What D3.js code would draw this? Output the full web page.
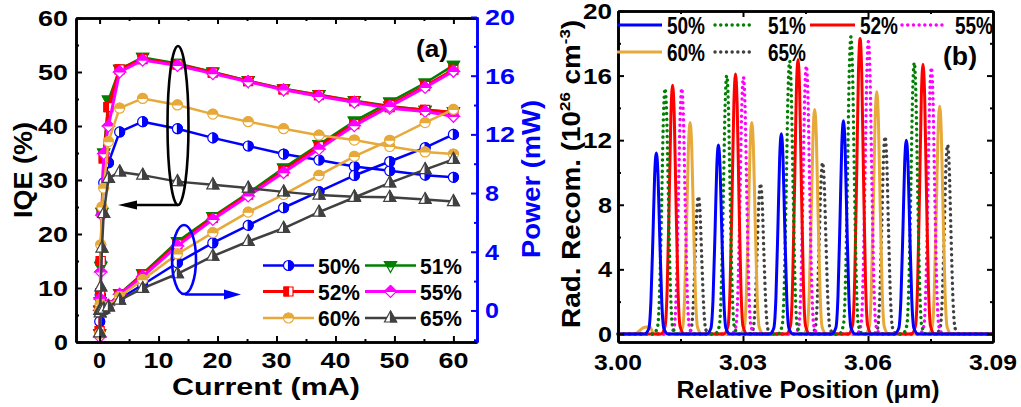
<!DOCTYPE html>
<html><head><meta charset="utf-8">
<script src="https://cdn.jsdelivr.net/npm/d3@7"></script>
<style>
body{margin:0;background:#fff}
svg{display:block}
text{font-family:"Liberation Sans",Arial,sans-serif;font-weight:bold}
</style>
</head><body>
<svg id="c" width="1021" height="407"></svg>
<script>
// ---------------- DATA: panel (a) ----------------
const seriesNames = ["50%", "51%", "52%", "55%", "60%", "65%"];
const currentA = [0.02, 0.1, 0.2, 0.4, 0.7, 1.5, 3.4, 7.3, 13.2, 19.2, 25.2, 31.2, 37.2, 43.2, 49.2, 55.2, 60];
const iqe50 = [3.8, 8.7, 14.9, 23.8, 29.5, 33.2, 38.9, 40.8, 39.5, 37.8, 36.3, 34.8, 33.7, 32.5, 31.7, 30.9, 30.5];
const iqe51 = [1.5, 7.5, 14.0, 24.0, 35.0, 44.8, 50.5, 52.7, 51.6, 50.0, 48.4, 46.9, 45.8, 44.7, 43.7, 42.9, 42.6];
const iqe52 = [2.0, 9.0, 15.0, 24.0, 34.0, 43.5, 50.5, 52.4, 51.4, 49.9, 48.3, 46.8, 45.7, 44.6, 43.5, 43.0, 42.5];
const iqe55 = [1.0, 8.0, 13.0, 23.5, 34.9, 40.0, 50.0, 52.2, 51.2, 49.7, 48.2, 46.7, 45.5, 44.4, 43.3, 42.7, 41.8];
const iqe60 = [1.5, 7.0, 18.0, 25.0, 28.5, 37.1, 43.3, 45.1, 43.9, 42.2, 40.8, 39.5, 38.3, 37.4, 36.2, 35.2, 34.8];
const iqe65 = [1.7, 5.4, 10.2, 17.4, 23.8, 30.3, 31.5, 30.9, 29.7, 29.1, 28.5, 27.8, 27.2, 26.9, 26.8, 26.4, 26.0];
const pow50 = [0, 0, 0, 0.05, 0.1, 0.3, 0.8, 1.75, 3.25, 4.6, 5.8, 7.0, 8.1, 9.2, 10.15, 11.1, 12.0];
const pow51 = [0, 0, 0, 0.05, 0.1, 0.35, 1.15, 2.5, 4.7, 6.4, 8.0, 9.7, 11.3, 12.9, 14.2, 15.5, 16.7];
const pow52 = [0, 0, 0, 0.05, 0.1, 0.35, 1.1, 2.4, 4.5, 6.3, 7.9, 9.5, 11.2, 12.7, 14.0, 15.3, 16.4];
const pow55 = [0, 0, 0, 0.05, 0.1, 0.35, 1.1, 2.3, 4.4, 6.2, 7.8, 9.4, 11.0, 12.6, 13.9, 15.2, 16.3];
const pow60 = [0, 0, 0, 0.05, 0.1, 0.3, 0.95, 2.1, 3.85, 5.3, 6.7, 7.9, 9.2, 10.5, 11.6, 12.8, 13.7];
const pow65 = [0, 0, 0, 0.05, 0.1, 0.25, 0.7, 1.5, 2.5, 3.7, 4.7, 5.6, 6.7, 7.7, 8.7, 9.6, 10.3];
const iqeTicks = [0, 10, 20, 30, 40, 50, 60];
const powTicks = [0, 4, 8, 12, 16, 20];
const currentTicks = [0, 10, 20, 30, 40, 50, 60];

// ---------------- DATA: panel (b) ----------------
const posTicks = [3.00, 3.03, 3.06, 3.09];
const posTickLabels = ["3.00", "3.03", "3.06", "3.09"];
const radTicks = [0, 4, 8, 12, 16, 20];
const peakPos50 = [3.0092, 3.0241, 3.0392, 3.0541, 3.0692];
const peakVal50 = [11.2, 11.7, 12.4, 13.2, 12.0];
const peakPos51 = [3.0113, 3.0261, 3.0412, 3.0559, 3.0711];
const peakVal51 = [15.2, 16.0, 16.9, 18.4, 16.8];
const peakPos52 = [3.0131, 3.0282, 3.0432, 3.0581, 3.0732];
const peakVal52 = [15.4, 16.1, 17.0, 18.3, 16.7];
const peakPos55 = [3.0153, 3.0301, 3.0452, 3.0601, 3.0752];
const peakVal55 = [15.2, 15.9, 16.6, 18.1, 16.5];
const peakPos60 = [3.0173, 3.0321, 3.0472, 3.0621, 3.0772];
const peakVal60 = [13.1, 13.1, 13.9, 15.0, 14.1];
const peakPos65 = [3.0193, 3.0342, 3.0491, 3.0641, 3.0791];
const peakVal65 = [8.5, 9.3, 10.6, 12.2, 11.7];
// common peak outline (offset in um, fraction of peak height)
const peakDx = [-0.0028, -0.0018, -0.0013, -0.0008, -0.0004, 0, 0.0004, 0.0008, 0.0013, 0.0018, 0.0028];
const peakFrac = [0, 0.03, 0.18, 0.55, 0.88, 1, 0.88, 0.55, 0.18, 0.03, 0];
const bump60X = [3.0040, 3.0062, 3.0076, 3.0086];
const bump60Y = [0, 0.4, 0.45, 0];

// ---------------- STYLE ----------------
const col = {"50%": "#0000ff", "51%": "#007f00", "52%": "#ff0000", "55%": "#ff00ff", "60%": "#e6a93a", "65%": "#404040"};

const svg = d3.select("#c");

function txt(g, str, x, y, o) {
  const t = g.append("text").attr("x", x).attr("y", y).text(str)
    .attr("font-size", o.size).attr("text-anchor", o.anchor || "start")
    .attr("fill", o.color || "#000");
  if (o.len) t.attr("textLength", o.len).attr("lengthAdjust", "spacingAndGlyphs");
  return t;
}

// ================= PANEL (a) =================
const xA = d3.scaleLinear([-4, 64], [76, 477]);
const yI = d3.scaleLinear([0, 60], [342, 18]);
const yP = d3.scaleLinear([-2.15, 20], [342, 17]);
const gA = svg.append("g");

function markerPaths(kind) {
  switch (kind) {
    case "circleR": { const r = 5; return {o: `M${-r},0A${r},${r} 0 1,1 ${r},0A${r},${r} 0 1,1 ${-r},0Z`, h: `M0,${-r}A${r},${r} 0 0,1 0,${r}Z`}; }
    case "circleT": { const r = 5; return {o: `M${-r},0A${r},${r} 0 1,1 ${r},0A${r},${r} 0 1,1 ${-r},0Z`, h: `M${-r},0A${r},${r} 0 0,1 ${r},0Z`}; }
    case "triDown": return {o: "M-6,-4L6,-4L0,7Z", h: "M-6,-4L6,-4L3,1.5L-3,1.5Z"};
    case "square": return {o: "M-4.5,-4.5H4.5V4.5H-4.5Z", h: "M-4.5,-4.5H0V4.5H-4.5Z"};
    case "diamond": return {o: "M0,-6L6,0L0,6L-6,0Z", h: "M0,-6L6,0L-6,0Z"};
    case "triUp": return {o: "M0,-7L6,4L-6,4Z", h: "M0,-7L6,4L0,4Z"};
  }
}
const markerKind = {"50%": "circleR", "51%": "triDown", "52%": "square", "55%": "diamond", "60%": "circleT", "65%": "triUp"};
function drawMarker(g, name, x, y) {
  const m = markerPaths(markerKind[name]);
  const mg = g.append("g").attr("transform", `translate(${x},${y})`);
  mg.append("path").attr("d", m.o).attr("fill", "#fff").attr("stroke", col[name]).attr("stroke-width", 1.2);
  mg.append("path").attr("d", m.h).attr("fill", col[name]).attr("stroke", col[name]).attr("stroke-width", 1.2);
}

const iqeData = {"50%": iqe50, "51%": iqe51, "52%": iqe52, "55%": iqe55, "60%": iqe60, "65%": iqe65};
const powData = {"50%": pow50, "51%": pow51, "52%": pow52, "55%": pow55, "60%": pow60, "65%": pow65};
const lineWidth = {"50%": 2.5, "51%": 2.5, "52%": 3, "55%": 3, "60%": 2.5, "65%": 2.5};

const plotA = gA.append("g");
seriesNames.forEach(name => {
  const ptsI = currentA.map((c, i) => [xA(c), yI(iqeData[name][i])]);
  const ptsP = currentA.map((c, i) => [xA(c), yP(powData[name][i])]);
  [ptsI, ptsP].forEach(pts => {
    plotA.append("path").attr("d", d3.line()(pts)).attr("fill", "none")
      .attr("stroke", col[name]).attr("stroke-width", lineWidth[name]).attr("stroke-linejoin", "round");
  });
  [ptsI, ptsP].forEach(pts => pts.forEach(p => drawMarker(plotA, name, p[0], p[1])));
});

function styleAxis(g, color) {
  g.select(".domain").attr("stroke", color).attr("stroke-width", 2.6);
  g.selectAll(".tick line").attr("stroke", color).attr("stroke-width", 2);
  g.selectAll("text").remove();
}
const minorI = d3.range(5, 60, 10);
const minorX = d3.range(5, 64, 10);
const minorP = d3.range(-2, 20, 4).filter(v => v > -2.15);
gA.append("g").attr("transform", "translate(0,342)").call(d3.axisBottom(xA).tickValues(minorX).tickSize(-3).tickSizeOuter(0)).call(g => styleAxis(g, "#000"));
gA.append("g").attr("transform", "translate(0,342)").call(d3.axisBottom(xA).tickValues(currentTicks).tickSize(-6).tickSizeOuter(0)).call(g => styleAxis(g, "#000"));
gA.append("g").attr("transform", "translate(0,18)").call(d3.axisTop(xA).tickValues(minorX).tickSize(-3).tickSizeOuter(0)).call(g => styleAxis(g, "#000"));
gA.append("g").attr("transform", "translate(0,18)").call(d3.axisTop(xA).tickValues(currentTicks).tickSize(-6).tickSizeOuter(0)).call(g => styleAxis(g, "#000"));
gA.append("g").attr("transform", "translate(76,0)").call(d3.axisLeft(yI).tickValues(minorI).tickSize(-3).tickSizeOuter(0)).call(g => styleAxis(g, "#000"));
gA.append("g").attr("transform", "translate(76,0)").call(d3.axisLeft(yI).tickValues(iqeTicks).tickSize(-6).tickSizeOuter(0)).call(g => styleAxis(g, "#000"));
gA.append("g").attr("transform", "translate(477,0)").call(d3.axisRight(yP).tickValues(minorP).tickSize(-3).tickSizeOuter(0)).call(g => styleAxis(g, "#0000ff"));
gA.append("g").attr("transform", "translate(477,0)").call(d3.axisRight(yP).tickValues(powTicks).tickSize(-6).tickSizeOuter(0)).call(g => styleAxis(g, "#0000ff"));

iqeTicks.forEach(v => txt(gA, String(v), 68, yI(v) + 8, {size: 22, anchor: "end", len: String(v).length > 1 ? 30 : 14}));
powTicks.forEach(v => txt(gA, String(v), 485, yP(v) + 8, {size: 22, anchor: "start", color: "#0000ff", len: String(v).length > 1 ? 30 : 14}));
currentTicks.forEach(v => txt(gA, String(v), xA(v), 368, {size: 22, anchor: "middle", len: String(v).length > 1 ? 30 : 13}));

txt(gA, "Current (mA)", 266, 395, {size: 23, anchor: "middle", len: 188});
txt(gA, "IQE (%)", 0, 0, {size: 25, anchor: "middle", len: 96}).attr("transform", "translate(32,170) rotate(-90)");
txt(gA, "Power (mW)", 0, 0, {size: 25, anchor: "middle", len: 158, color: "#0000ff"}).attr("transform", "translate(540,179) rotate(-90)");
txt(gA, "(a)", 432, 57, {size: 24, anchor: "middle", len: 32});

gA.append("ellipse").attr("cx", 178).attr("cy", 125.5).attr("rx", 10.5).attr("ry", 79.5)
  .attr("fill", "none").attr("stroke", "#000").attr("stroke-width", 2.6);
gA.append("line").attr("x1", 178).attr("y1", 205).attr("x2", 135).attr("y2", 205).attr("stroke", "#000").attr("stroke-width", 2.6);
gA.append("path").attr("d", "M118,205L137,200.5L137,209.5Z").attr("fill", "#000");
gA.append("ellipse").attr("cx", 184).attr("cy", 259.5).attr("rx", 12).attr("ry", 34.5)
  .attr("fill", "none").attr("stroke", "#0000ff").attr("stroke-width", 2.6);
gA.append("line").attr("x1", 185).attr("y1", 294.5).attr("x2", 227).attr("y2", 294.5).attr("stroke", "#0000ff").attr("stroke-width", 2.6);
gA.append("path").attr("d", "M241,294.5L224,289.5L224,299.5Z").attr("fill", "#0000ff");

const legA = [{n: "50%", x: 263, y: 265.5}, {n: "51%", x: 365, y: 265.5},
              {n: "52%", x: 263, y: 291.5}, {n: "55%", x: 365, y: 291.5},
              {n: "60%", x: 263, y: 318}, {n: "65%", x: 365, y: 318}];
legA.forEach(d => {
  gA.append("line").attr("x1", d.x).attr("x2", d.x + 51).attr("y1", d.y).attr("y2", d.y)
    .attr("stroke", col[d.n]).attr("stroke-width", lineWidth[d.n]);
  drawMarker(gA, d.n, d.x + 25.5, d.y);
  txt(gA, d.n, d.x + 55, d.y + 8, {size: 22, len: 42});
});

// ================= PANEL (b) =================
const xB = d3.scaleLinear([3.0, 3.09], [618, 993]);
const yB = d3.scaleLinear([-0.5, 20], [342, 11]);
const gB = svg.append("g");

const peakPos = {"50%": peakPos50, "51%": peakPos51, "52%": peakPos52, "55%": peakPos55, "60%": peakPos60, "65%": peakPos65};
const peakVal = {"50%": peakVal50, "51%": peakVal51, "52%": peakVal52, "55%": peakVal55, "60%": peakVal60, "65%": peakVal65};
const dotted = {"50%": false, "51%": true, "52%": false, "55%": true, "60%": false, "65%": true};

function seriesPoints(name) {
  let pts = [[3.0, 0], [3.09, 0]];
  peakPos[name].forEach((c, k) => {
    peakDx.forEach((dx, j) => pts.push([c + dx, peakVal[name][k] * peakFrac[j]]));
  });
  if (name === "60%") bump60X.forEach((x, j) => pts.push([x, bump60Y[j]]));
  pts.sort((a, b) => a[0] - b[0]);
  return pts;
}
const lineB = d3.line().x(d => xB(d[0])).y(d => yB(d[1])).curve(d3.curveMonotoneX);
function styleB(sel, name) {
  sel.attr("fill", "none").attr("stroke", col[name]);
  if (dotted[name]) sel.attr("stroke-width", 3.4).attr("stroke-dasharray", "0.1,5.6").attr("stroke-linecap", "round");
  else sel.attr("stroke-width", 3).attr("stroke-linejoin", "round");
}
const orderB = ["65%", "60%", "55%", "52%", "51%", "50%"];
orderB.forEach(name => {
  gB.append("path").attr("d", lineB(seriesPoints(name))).call(s => styleB(s, name));
});

const minorPos = [3.015, 3.045, 3.075];
const minorRad = [2, 6, 10, 14, 18];
gB.append("g").attr("transform", "translate(0,342)").call(d3.axisBottom(xB).tickValues(minorPos).tickSize(-3).tickSizeOuter(0)).call(g => styleAxis(g, "#000"));
gB.append("g").attr("transform", "translate(0,342)").call(d3.axisBottom(xB).tickValues(posTicks).tickSize(-6).tickSizeOuter(0)).call(g => styleAxis(g, "#000"));
gB.append("g").attr("transform", "translate(0,11)").call(d3.axisTop(xB).tickValues(minorPos).tickSize(-3).tickSizeOuter(0)).call(g => styleAxis(g, "#000"));
gB.append("g").attr("transform", "translate(0,11)").call(d3.axisTop(xB).tickValues(posTicks).tickSize(-6).tickSizeOuter(0)).call(g => styleAxis(g, "#000"));
gB.append("g").attr("transform", "translate(618,0)").call(d3.axisLeft(yB).tickValues(minorRad).tickSize(-3).tickSizeOuter(0)).call(g => styleAxis(g, "#000"));
gB.append("g").attr("transform", "translate(618,0)").call(d3.axisLeft(yB).tickValues(radTicks).tickSize(-6).tickSizeOuter(0)).call(g => styleAxis(g, "#000"));
gB.append("g").attr("transform", "translate(993,0)").call(d3.axisRight(yB).tickValues(minorRad).tickSize(-3).tickSizeOuter(0)).call(g => styleAxis(g, "#000"));
gB.append("g").attr("transform", "translate(993,0)").call(d3.axisRight(yB).tickValues(radTicks).tickSize(-6).tickSizeOuter(0)).call(g => styleAxis(g, "#000"));

radTicks.forEach(v => txt(gB, String(v), 612, yB(v) + 8, {size: 22, anchor: "end", len: String(v).length > 1 ? 29 : 14}));
posTicks.forEach((v, i) => txt(gB, posTickLabels[i], xB(v), 370, {size: 22, anchor: "middle", len: 48}));

txt(gB, "Relative Position (\u03bcm)", 808, 398, {size: 24, anchor: "middle", len: 263});
const yt = gB.append("text").attr("transform", "translate(580,174) rotate(-90)").attr("text-anchor", "middle")
  .attr("font-size", 25).attr("textLength", 308).attr("lengthAdjust", "spacingAndGlyphs");
yt.append("tspan").text("Rad. Recom. (10");
yt.append("tspan").text("26").attr("font-size", 15).attr("dy", -10);
yt.append("tspan").text(" cm").attr("dy", 10);
yt.append("tspan").text("-3").attr("font-size", 15).attr("dy", -10);
yt.append("tspan").text(")").attr("dy", 10);
txt(gB, "(b)", 960, 65, {size: 25, anchor: "middle", len: 34});

const legB = [{n: "50%", x1: 617, x2: 662, tx: 667, y: 25}, {n: "51%", x1: 715, x2: 753, tx: 768, y: 25},
              {n: "52%", x1: 810, x2: 855, tx: 860, y: 25}, {n: "55%", x1: 902, x2: 943, tx: 955, y: 25},
              {n: "60%", x1: 617, x2: 662, tx: 667, y: 52}, {n: "65%", x1: 715, x2: 753, tx: 768, y: 52}];
legB.forEach(d => {
  gB.append("line").attr("x1", d.x1).attr("x2", d.x2).attr("y1", d.y).attr("y2", d.y).call(s => styleB(s, d.n));
  txt(gB, d.n, d.tx, d.y + 8.5, {size: 24, len: 38});
});
</script>
</body></html>
